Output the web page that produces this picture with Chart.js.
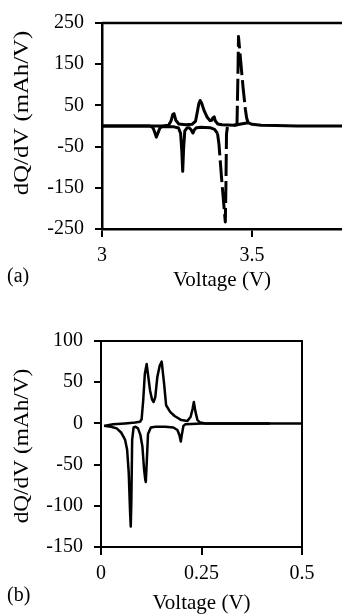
<!DOCTYPE html>
<html><head><meta charset="utf-8">
<script src="https://cdn.jsdelivr.net/npm/chart.js@4.4.1/dist/chart.umd.min.js"></script>
<style>
html,body{margin:0;padding:0;background:#fff;width:342px;height:616px;overflow:hidden}
#wa{position:absolute;left:0;top:0;width:342px;height:310px}
#wb{position:absolute;left:0;top:310px;width:342px;height:306px}
canvas{display:block}
</style></head><body>
<div id="wa"><canvas id="ca" width="342" height="310"></canvas></div>
<div id="wb"><canvas id="cb" width="342" height="306"></canvas></div>
<script>
// ---------- Panel (a) data ----------
const aChargeSolidV = [3.00, 3.20, 3.222, 3.230, 3.236, 3.240, 3.246, 3.256, 3.28, 3.300, 3.312, 3.318, 3.323, 3.327, 3.332, 3.340, 3.350, 3.360, 3.366, 3.370, 3.374, 3.378, 3.386, 3.40, 3.44, 3.487, 3.50, 3.53, 3.58, 3.65, 3.80];
const aChargeSolidQ = [0, 0, 2, 12, 28, 30, 14, 5, 3, 4, 12, 35, 55, 62, 56, 38, 22, 13, 14, 20, 22, 12, 5, 3, 2, 8, 4, 2, 1, 0, 0];
const aDischargeSolidV = [3.00, 3.160, 3.170, 3.176, 3.181, 3.186, 3.193, 3.20, 3.24, 3.255, 3.262, 3.266, 3.269, 3.272, 3.276, 3.283, 3.29, 3.297, 3.303, 3.308, 3.315, 3.33, 3.36, 3.375, 3.385];
const aDischargeSolidQ = [0, 0, -4, -16, -27, -18, -5, -2, -2, -5, -18, -60, -110, -55, -12, -5, -4, -9, -17, -9, -4, -3, -4, -8, -18];
const aDischargeDashedV = [3.385, 3.390, 3.400, 3.411, 3.413, 3.415, 3.418, 3.43];
const aDischargeDashedQ = [-18, -45, -140, -233, -150, -20, -2, 0];
const aChargeDashedV = [3.44, 3.450, 3.453, 3.455, 3.462, 3.470, 3.478, 3.482, 3.487];
const aChargeDashedQ = [2, 3, 120, 217, 160, 95, 40, 20, 8];
const aXTicks = [3, 3.5];
const aXTickLabels = ['3', '3.5'];
const aYTicks = [-250, -150, -50, 50, 150, 250];
const aYTickLabels = ['-250', '-150', '-50', '50', '150', '250'];

// ---------- Panel (b) data ----------
const bChargeV = [0.0075, 0.03, 0.06, 0.085, 0.097, 0.101, 0.105, 0.109, 0.1136, 0.1178, 0.122, 0.127, 0.131, 0.135, 0.140, 0.146, 0.151, 0.157, 0.162, 0.172, 0.183, 0.200, 0.215, 0.223, 0.228, 0.231, 0.235, 0.240, 0.247, 0.26, 0.30, 0.42];
const bChargeQ = [-3, -1, 0, 1, 2, 5, 28, 60, 72, 56, 40, 29, 26, 32, 56, 70, 75, 48, 22, 14, 9, 4, 3, 8, 18, 26, 14, 4, 1, 0, 0, 0];
const bDischargeV = [0.0075, 0.025, 0.039, 0.050, 0.060, 0.065, 0.069, 0.0725, 0.0740, 0.0755, 0.0775, 0.081, 0.086, 0.092, 0.098, 0.103, 0.107, 0.110, 0.1115, 0.114, 0.1169, 0.124, 0.135, 0.16, 0.18, 0.190, 0.195, 0.1985, 0.201, 0.205, 0.210, 0.25, 0.50];
const bDischargeQ = [-3, -4, -6, -11, -20, -32, -60, -110, -125, -95, -20, -5, -4, -6, -14, -28, -55, -68, -71, -45, -13, -5, -4, -4, -5, -8, -14, -22, -14, -3, -1, 0, 0];
const bXTicks = [0, 0.25, 0.5];
const bXTickLabels = ['0', '0.25', '0.5'];
const bYTicks = [-150, -100, -50, 0, 50, 100];
const bYTickLabels = ['-150', '-100', '-50', '0', '50', '100'];

const xTitle = 'Voltage (V)';
const yTitle = 'dQ/dV (mAh/V)';

// ---------- helpers ----------
Chart.defaults.font.family = "'Liberation Serif','Times New Roman',serif";
Chart.defaults.color = '#000';

function pts(xs, ys){ return xs.map((x,i)=>({x:x, y:ys[i]})); }
function lbl(vals, labels){ return function(v){ const i = vals.findIndex(t=>Math.abs(t-v)<1e-9); return i>=0 ? labels[i] : ''; }; }

function decor(cfg){
  return {
    id:'decor',
    afterDatasetsDraw(chart){
      const ctx = chart.ctx, a = chart.chartArea;
      ctx.save();
      ctx.strokeStyle = '#000';
      ctx.lineWidth = cfg.frameWidth;
      ctx.beginPath();
      ctx.moveTo(a.left, a.top); ctx.lineTo(a.right, a.top);
      if (cfg.rightBorder){ ctx.lineTo(a.right, a.bottom); }
      ctx.stroke();
      ctx.restore();
    },
    afterDraw(chart){
      const ctx = chart.ctx, a = chart.chartArea;
      ctx.save();
      ctx.fillStyle = '#000';
      ctx.textBaseline = 'middle';
      ctx.font = "21px 'Liberation Serif'";
      ctx.textAlign = 'center';
      ctx.fillText(xTitle, (a.left + a.right)/2, cfg.xTitleY);
      ctx.textAlign = 'left';
      ctx.font = "20px 'Liberation Serif'";
      ctx.fillText(cfg.panel, cfg.panelX, cfg.panelY);
      ctx.translate(cfg.yTitleX, cfg.yTitleY);
      ctx.rotate(-Math.PI/2);
      ctx.scale(cfg.yStretch, 1);
      ctx.textAlign = 'center';
      ctx.font = "21px 'Liberation Serif'";
      ctx.fillText(yTitle, 0, 0);
      ctx.restore();
    }
  };
}

function axisX(min, max, ticks, labels, height, bw){
  return {
    type:'linear', min:min, max:max,
    afterBuildTicks(s){ s.ticks = ticks.map(v=>({value:v})); },
    afterFit(s){ s.height = height; },
    ticks:{ callback: lbl(ticks, labels), font:{size:20}, color:'#000', padding:7, maxRotation:0, autoSkip:false },
    grid:{ drawOnChartArea:false, color:'#000', lineWidth:2, tickLength:8 },
    border:{ display:true, color:'#000', width:bw }
  };
}
function axisY(min, max, ticks, labels, width, bw){
  return {
    type:'linear', min:min, max:max,
    afterBuildTicks(s){ s.ticks = ticks.map(v=>({value:v})); },
    afterFit(s){ s.width = width; },
    ticks:{ callback: lbl(ticks, labels), font:{size:20}, color:'#000', padding:11, autoSkip:false },
    grid:{ drawOnChartArea:false, color:'#000', lineWidth:2, tickLength:7 },
    border:{ display:true, color:'#000', width:bw }
  };
}

function ds(data, w, dash){
  return { data:data, borderColor:'#000', backgroundColor:'#000', borderWidth:w, pointRadius:0, showLine:true, tension:0, fill:false, borderDash:dash||[], borderJoinStyle:'round', borderCapStyle:'butt' };
}

// ---------- Chart (a) ----------
new Chart(document.getElementById('ca'), {
  type:'scatter',
  data:{ datasets:[
    ds(pts(aChargeSolidV, aChargeSolidQ), 3),
    ds(pts(aDischargeSolidV, aDischargeSolidQ), 3),
    ds(pts(aDischargeDashedV, aDischargeDashedQ), 3, [22,5]),
    ds(pts(aChargeDashedV, aChargeDashedQ), 3, [22,5])
  ]},
  options:{
    responsive:false, animation:false, devicePixelRatio:1,
    layout:{ padding:{ top:20, left:0, right:0, bottom:0 } },
    plugins:{ legend:{display:false}, tooltip:{enabled:false} },
    scales:{
      x: axisX(3, 3.8, aXTicks, aXTickLabels, 81, 2.5),
      y: axisY(-250, 250, aYTicks, aYTickLabels, 102, 2.5)
    }
  },
  plugins:[ decor({ frameWidth:2.5, rightBorder:false, xTitleY:280, panel:'(a)', panelX:7, panelY:277, yTitleX:22, yTitleY:113, yStretch:1.18 }) ]
});

// ---------- Chart (b) ----------
new Chart(document.getElementById('cb'), {
  type:'scatter',
  data:{ datasets:[
    ds(pts(bChargeV, bChargeQ), 2.5),
    ds(pts(bDischargeV, bDischargeQ), 2.5)
  ]},
  options:{
    responsive:false, animation:false, devicePixelRatio:1,
    layout:{ padding:{ top:31, left:0, right:40, bottom:0 } },
    plugins:{ legend:{display:false}, tooltip:{enabled:false} },
    scales:{
      x: axisX(0, 0.5, bXTicks, bXTickLabels, 69, 2),
      y: axisY(-150, 100, bYTicks, bYTickLabels, 101, 2)
    }
  },
  plugins:[ decor({ frameWidth:2, rightBorder:true, xTitleY:293, panel:'(b)', panelX:7, panelY:286, yTitleX:22, yTitleY:136, yStretch:1.11 }) ]
});
</script>
</body></html>
